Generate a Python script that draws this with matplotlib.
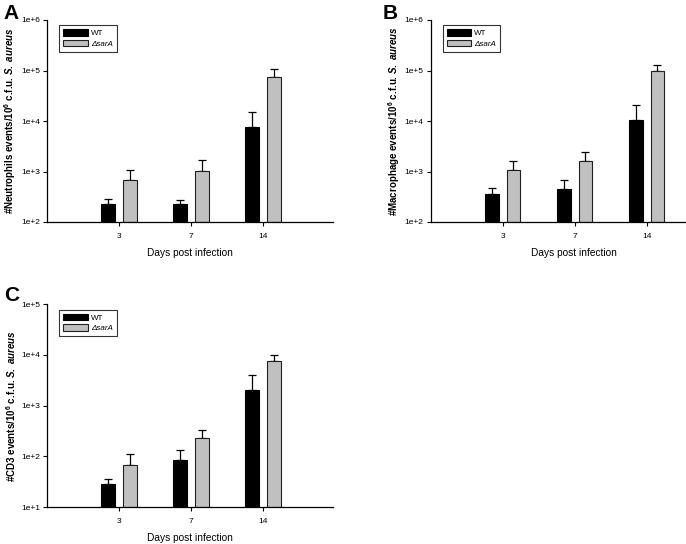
import matplotlib
matplotlib.use("Agg")
import matplotlib.pyplot as plt
import numpy as np
from matplotlib.patches import Patch

plt.rcParams['font.family'] = ['Liberation Sans', 'DejaVu Sans']
plt.rcParams['mathtext.fontset'] = 'custom'
plt.rcParams['mathtext.rm'] = 'Liberation Sans:bold'
plt.rcParams['mathtext.it'] = 'Liberation Sans:italic:bold'
plt.rcParams['mathtext.bf'] = 'Liberation Sans:bold'

days = ['3', '7', '14']
groups = ['WT', 'ΔsarA']

neut_wt = [227, 227, 7600]
neut_wt_err = [282, 269, 15100]
neut_sar = [676, 1040, 73000]
neut_sar_err = [1070, 1660, 105000]

mac_wt = [363, 443, 10500]
mac_wt_err = [465, 680, 20700]
mac_sar = [1050, 1630, 97000]
mac_sar_err = [1630, 2470, 128000]

cd3_wt = [28.8, 85.5, 2080]
cd3_wt_err = [36, 135, 4100]
cd3_sar = [68, 232, 7510]
cd3_sar_err = [109, 334, 10170]

fig = plt.figure(figsize=(6.86, 5.44), dpi=100)


def ylabel_text(name):
    return r'#%s events/10$^{6}$ c.f.u. $S.\ aureus$' % name


def panel(rect, wt, wte, sar, sare, ylab, ymin_exp, ymax_exp, letter, letter_xy):
    ax = fig.add_axes(rect)
    x = np.arange(1, len(days) + 1)
    off = 0.15
    w = 0.19
    base = 10.0 ** ymin_exp
    wt = np.array(wt); sar = np.array(sar)
    ax.bar(x - off, wt - base, w, bottom=base, color='black', edgecolor='black', linewidth=0.8, zorder=2)
    ax.bar(x + off, sar - base, w, bottom=base, color='#c0c0c0', edgecolor='#202020', linewidth=0.8, zorder=2)
    ax.errorbar(x - off, wt, yerr=[np.zeros(3), np.array(wte) - wt], fmt='none',
                ecolor='black', elinewidth=0.9, capsize=3, capthick=0.9, zorder=1)
    ax.errorbar(x + off, sar, yerr=[np.zeros(3), np.array(sare) - sar], fmt='none',
                ecolor='black', elinewidth=0.9, capsize=3, capthick=0.9, zorder=1)
    ax.set_yscale('log')
    ax.set_ylim(10.0 ** ymin_exp, 10.0 ** ymax_exp)
    ax.set_xlim(0, 3.97)
    exps = list(range(ymin_exp, ymax_exp + 1))
    ax.set_yticks([10.0 ** e for e in exps])
    ax.set_yticklabels(['1e+%d' % e for e in exps])
    ax.yaxis.set_minor_locator(matplotlib.ticker.NullLocator())
    ax.set_xticks(x)
    ax.set_xticklabels(days)
    ax.tick_params(axis='both', direction='out', length=3, width=0.8, labelsize=6, pad=2)
    ax.tick_params(axis='x', pad=5)
    for s in ['top', 'right']:
        ax.spines[s].set_visible(False)
    for s in ['left', 'bottom']:
        ax.spines[s].set_linewidth(0.9)
    ax.set_xlabel('Days post infection', fontsize=7.3, labelpad=6)
    ax.set_ylabel(ylab, fontsize=7.0, fontweight='bold', labelpad=2)
    handles = [Patch(facecolor='black', edgecolor='black', linewidth=0.8),
               Patch(facecolor='#c0c0c0', edgecolor='#202020', linewidth=0.8)]
    leg = ax.legend(handles, groups, loc='upper left', bbox_to_anchor=(0.035, 0.985),
                    fontsize=5.8, frameon=True, fancybox=False, edgecolor='black',
                    handlelength=3.0, handleheight=0.8, borderpad=0.5, labelspacing=0.35,
                    handletextpad=0.4, borderaxespad=0.3)
    leg.get_texts()[1].set_fontstyle('italic')
    leg.get_frame().set_linewidth(0.8)
    fig.text(letter_xy[0], letter_xy[1], letter, fontsize=15, fontweight='bold',
             ha='left', va='top')
    return ax


panel([47/686, 1 - 222/544, 286/686, 202/544], neut_wt, neut_wt_err, neut_sar, neut_sar_err,
      ylabel_text('Neutrophils'), 2, 6, 'A', (3/686, 1 - 4/544))
panel([430.5/686, 1 - 222/544, 286/686, 202/544], mac_wt, mac_wt_err, mac_sar, mac_sar_err,
      ylabel_text('Macrophage'), 2, 6, 'B', (383/686, 1 - 4/544))
panel([47/686, 1 - 507/544, 286/686, 202.7/544], cd3_wt, cd3_wt_err, cd3_sar, cd3_sar_err,
      ylabel_text('CD3'), 1, 5, 'C', (4/686, 1 - 286/544))

fig.savefig('out.png', dpi=100)
